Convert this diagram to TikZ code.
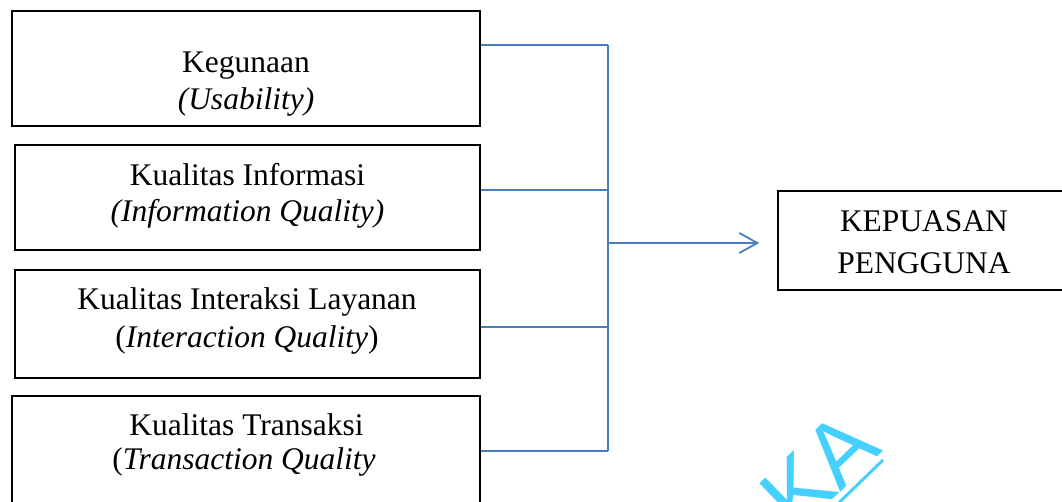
\documentclass[tikz,border=0pt]{standalone}
\usepackage{fontspec}
\setmainfont{Liberation Serif}
\newfontfamily\wmfont{Liberation Sans}
\usetikzlibrary{arrows.meta,calc}
\definecolor{lineblue}{HTML}{4A7EBB}
\definecolor{wmcyan}{HTML}{45D0FF}
\begin{document}
\begin{tikzpicture}[x=1pt,y=-1pt,
  box/.style={draw=black,line width=1.6pt,inner sep=0pt,rectangle},
  txt/.style={font=\fontsize{31.5}{36}\selectfont,anchor=base,inner sep=0pt},
  conn/.style={draw=lineblue,line width=1.8pt},
  wmark/.style={font=\wmfont\fontsize{90}{90}\selectfont,text=wmcyan,inner sep=0pt}]
\useasboundingbox (0,0) rectangle (1062,502);
\clip (0,0) rectangle (1062,502);
\fill[white] (0,0) rectangle (1062,502);
% boxes
\node[box,minimum width=468pt,minimum height=115pt] (b1) at (246,68.5) {};
\node[box,minimum width=465pt,minimum height=105pt] (b2) at (247.5,197.5) {};
\node[box,minimum width=465pt,minimum height=108pt] (b3) at (247.5,324) {};
\node[box,minimum width=468pt,minimum height=134pt] (b4) at (246,463) {};
\node[box,minimum width=292pt,minimum height=99pt] (kp) at (924,240.5) {};
% texts
\node[txt] (t1a) at (246,73) {Kegunaan};
\node[txt] (t1b) at (246,110) {\textit{(Usability)}};
\node[txt] (t2a) at (247.5,186) {Kualitas Informasi};
\node[txt] (t2b) at (247.5,222) {\textit{(Information Quality)}};
\node[txt] (t3a) at (247,310) {Kualitas Interaksi Layanan};
\node[txt] (t3b) at (247,347) {(\textit{Interaction Quality})};
\node[txt] (t4a) at (246.5,435) {Kualitas Transaksi};
\node[txt] (t4b) at (244,469) {(\textit{Transaction Quality}};
\node[txt] (k1) at (924,232) {KEPUASAN};
\node[txt] (k2) at (924,274) {PENGGUNA};
% junctions
\coordinate (j1) at (608,45);
\coordinate (j2) at (608,190);
\coordinate (j3) at (608,327);
\coordinate (j4) at (608,451);
\coordinate (jm) at (608,243);
\draw[conn] (j1 -| b1.east) -- (j1);
\draw[conn] (j2 -| b2.east) -- (j2);
\draw[conn] (j3 -| b3.east) -- (j3);
\draw[conn] (j4 -| b4.east) -- (j4);
\draw[conn] (j1) -- (j4);
\draw[conn,-{Straight Barb[length=18pt,width=20pt,line width=1.8pt]},shorten >=18pt] (jm) -- (jm -| kp.west);
% watermark
\node[wmark,rotate=44,anchor=base west] (wm) at (797,534) {KA};
\draw[wmcyan,line width=3pt] (883,460) -- (820,521);
\end{tikzpicture}
\end{document}
